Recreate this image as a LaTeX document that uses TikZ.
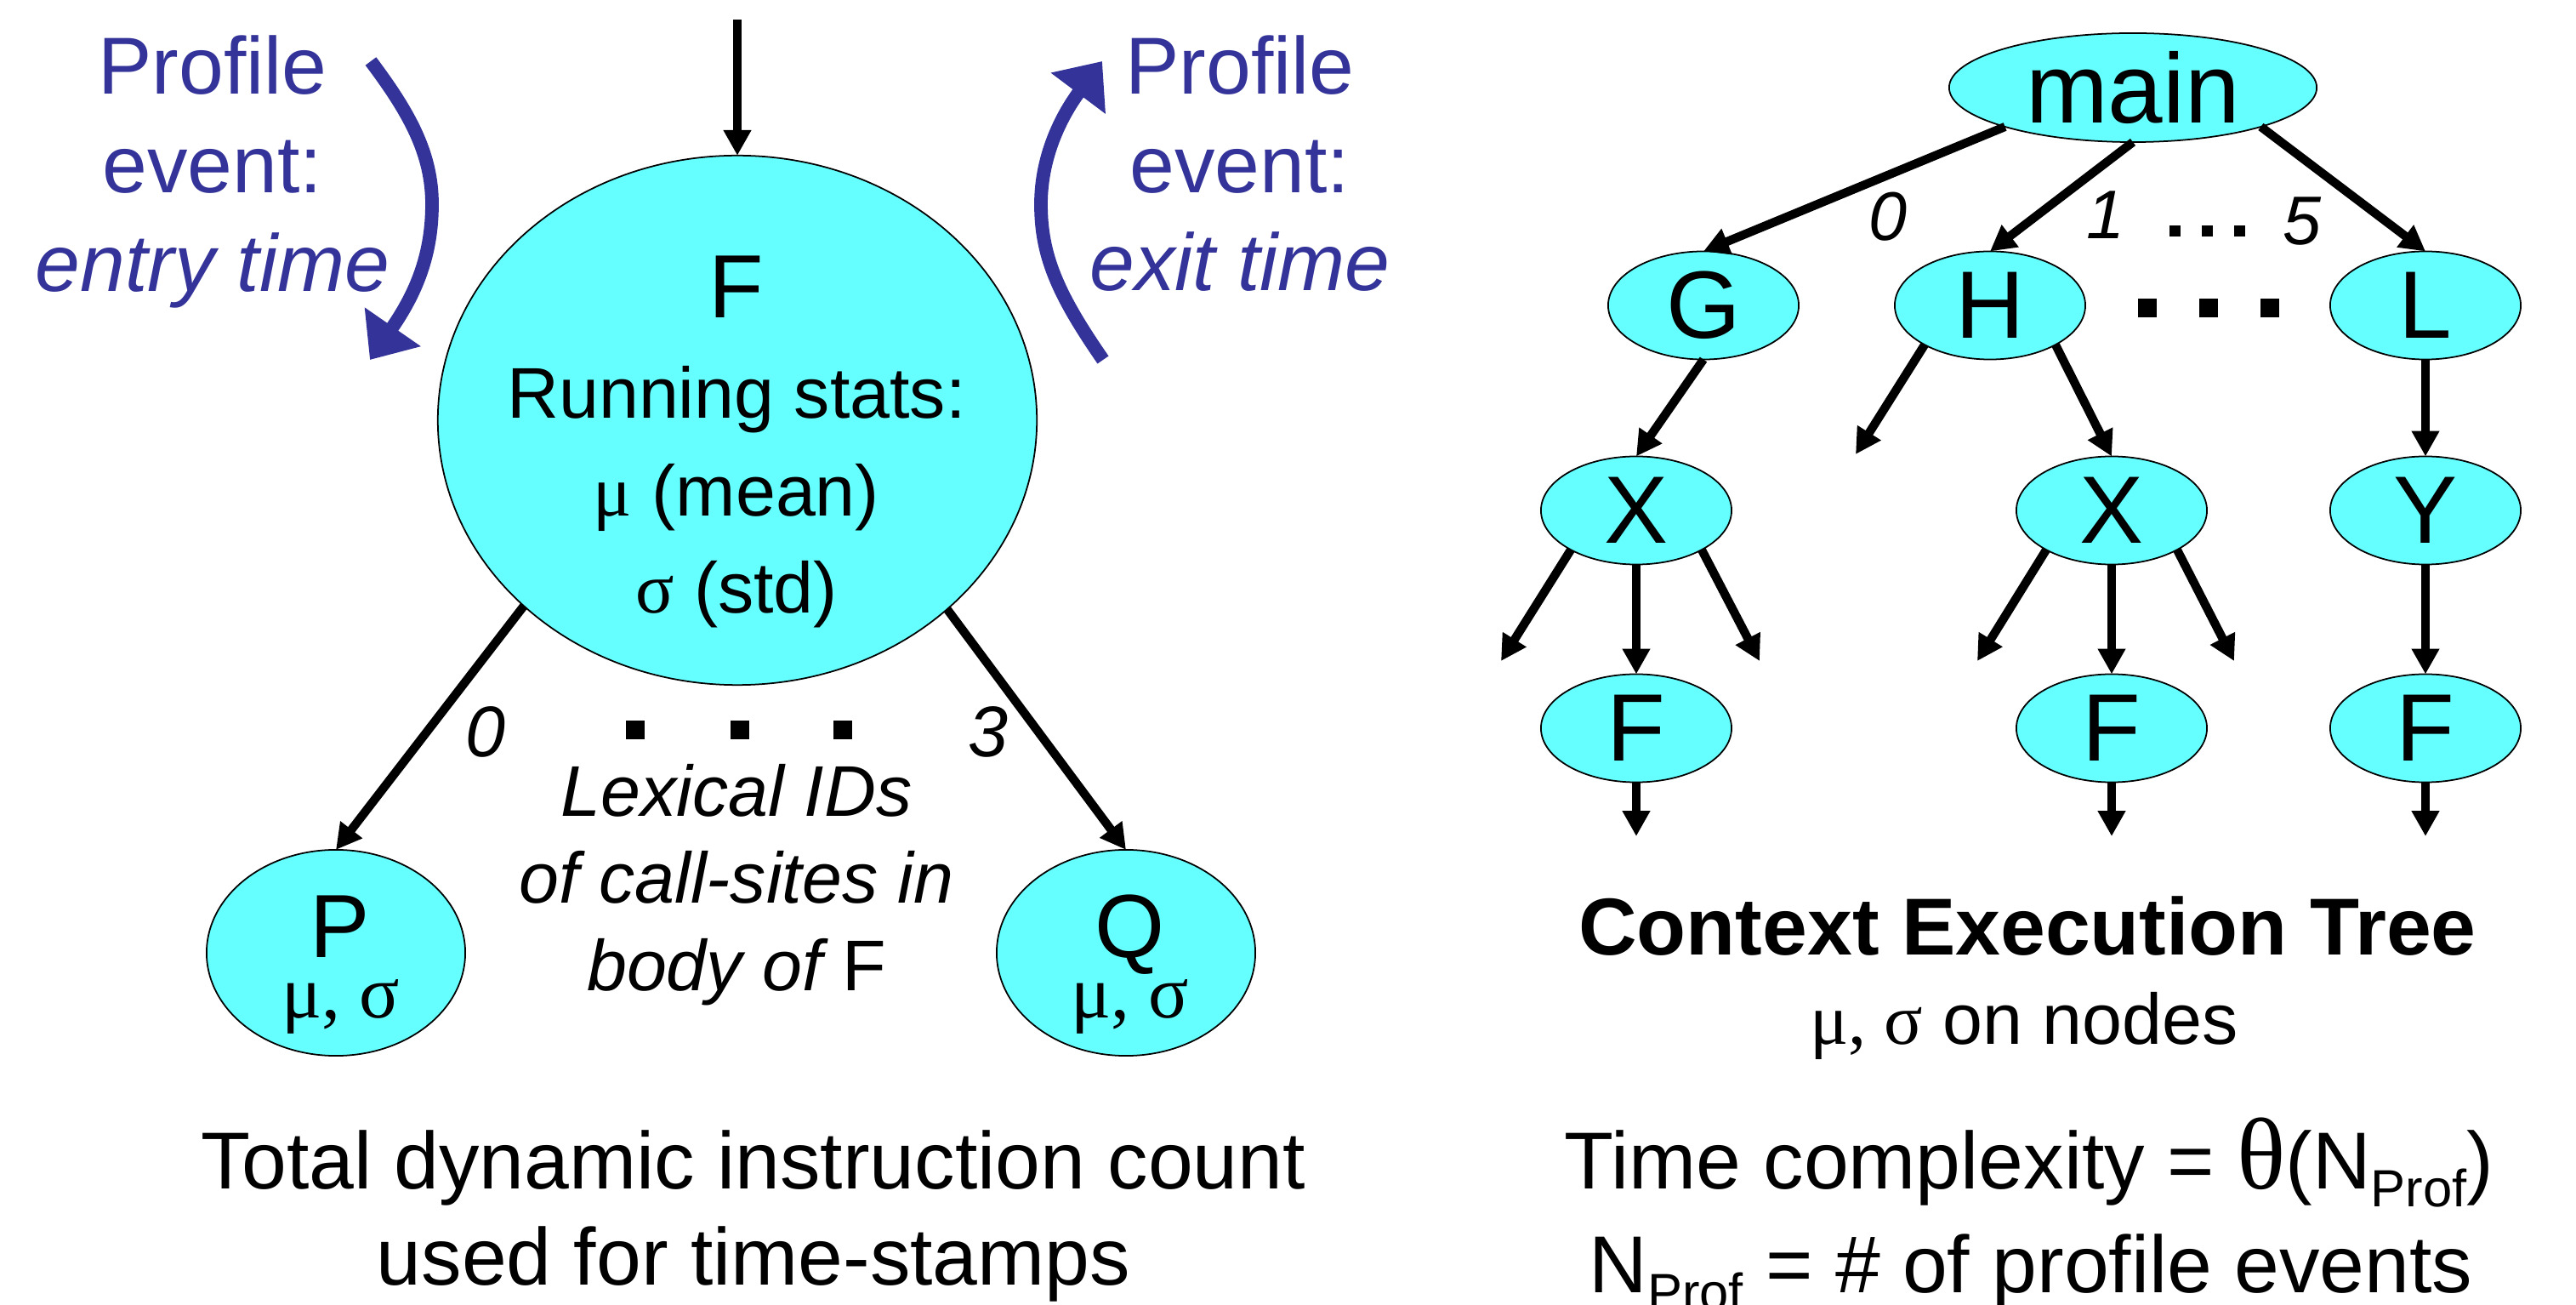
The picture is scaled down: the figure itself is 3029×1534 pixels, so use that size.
\documentclass[tikz,border=0pt]{standalone}
\usepackage{fontspec}
\setmainfont{Liberation Sans}
\newfontfamily\greekfont{Liberation Serif}
\usetikzlibrary{arrows.meta,shapes.geometric}

\definecolor{nodecyan}{HTML}{66FFFF}
\definecolor{eventblue}{HTML}{333399}
\newcommand{\fsz}[1]{\fontsize{#1}{#1}\selectfont}
\newcommand{\gk}[1]{{\greekfont #1}}
\newcommand{\prof}{\raisebox{-6pt}{\fsz{17.5}Prof}}

\begin{document}
\begin{tikzpicture}[x=0.01cm,y=-0.01cm,
  oval/.style={ellipse, draw=black, line width=0.5pt, fill=nodecyan, inner sep=0pt, outer sep=0pt},
  bigoval/.style={oval, minimum width=7.04cm, minimum height=6.22cm},
  calloval/.style={oval, minimum width=3.04cm, minimum height=2.42cm},
  treeoval/.style={oval, minimum width=2.24cm, minimum height=1.27cm, font=\fsz{32}},
  rootoval/.style={oval, minimum width=4.32cm, minimum height=1.28cm, font=\fsz{33}},
  edge/.style={line width=2.9pt, -{Triangle[length=8.5pt,width=8.8pt]}},
  evarrow/.style={line width=4.5pt, draw=eventblue, -{Triangle[length=13.4pt,width=22pt]}},
  txt/.style={anchor=base, inner sep=0pt},
  bluetxt/.style={txt, text=eventblue, font=\fsz{27}},
  sitelbl/.style={inner sep=0pt, font=\fsz{24}\itshape},
  treelbl/.style={inner sep=0pt, font=\fsz{23}\itshape},
  bigdot/.style={fill=black, inner sep=0pt, minimum width=0.22cm, minimum height=0.22cm},
  smalldot/.style={fill=black, inner sep=0pt, minimum width=0.13cm, minimum height=0.13cm}]

\useasboundingbox (0,0) rectangle (3029,1534);

% ---------- left: one function with its call sites ----------
\node[bigoval] (F) at (867,494) {};
\node[txt, font=\fsz{30}] (Fname) at (866,374) {F};
\node[txt, font=\fsz{24}] (Fstats) at (866,492) {Running stats:};
\node[txt, font=\fsz{24}] (Fmean) at (866,607) {\gk{μ} (mean)};
\node[txt, font=\fsz{24}] (Fstd) at (866,721) {\gk{σ} (std)};

\coordinate (callin) at (867,23);
\draw[edge] (callin) -- (F.north);

\node[calloval] (P) at (395,1120) {};
\node[txt, font=\fsz{30}] (Pname) at (400,1126) {P};
\node[txt, font=\fsz{25}\greekfont] (Pstat) at (401,1196) {μ, σ};
\node[calloval] (Q) at (1324,1120) {};
\node[txt, font=\fsz{30}] (Qname) at (1329,1126) {Q};
\node[txt, font=\fsz{25}\greekfont] (Qstat) at (1329,1196) {μ, σ};

\draw[edge] (F.221.6) -- (P.north);
\draw[edge] (F.318.6) -- (Q.north);

\node[sitelbl] (site0) at (571,860) {0};
\node[sitelbl] (site3) at (1162,860) {3};
\node[bigdot] (sd1) at (747,858) {};
\node[bigdot] (sd2) at (870,858) {};
\node[bigdot] (sd3) at (991,858) {};

\node[txt, font=\fsz{24}\itshape] (lex1) at (866,960) {Lexical IDs};
\node[txt, font=\fsz{24}\itshape] (lex2) at (866,1061) {of call-sites in};
\node[txt, font=\fsz{24}] (lex3) at (866,1164) {{\itshape body of} F};

% profile events around the call
\node[bluetxt] (entry1) at (250,111) {Profile};
\node[bluetxt] (entry2) at (250,227) {event:};
\node[bluetxt, font=\fsz{27}\itshape] (entry3) at (250,343) {entry time};
\coordinate (entryA) at (436,72);
\coordinate (entryB) at (435,423);
\draw[evarrow] (entryA) .. controls (481,132) and (508,180) .. (508,240)
  .. controls (508,300) and (489,345) .. (entryB);

\node[bluetxt] (exit1) at (1458,111) {Profile};
\node[bluetxt] (exit2) at (1458,227) {event:};
\node[bluetxt, font=\fsz{27}\itshape] (exit3) at (1458,342) {exit time};
\coordinate (exitA) at (1297,423);
\coordinate (exitB) at (1296,72);
\draw[evarrow] (exitA) .. controls (1243,345) and (1224,300) .. (1224,240)
  .. controls (1224,180) and (1251,132) .. (exitB);

\node[txt, font=\fsz{27}] (note1) at (886,1397) {Total dynamic instruction count};
\node[txt, font=\fsz{27}] (note2) at (886,1510) {used for time-stamps};

% ---------- right: context execution tree ----------
\node[rootoval] (main) at (2508,103) {main};
\node[treeoval] (G) at (2003,359) {G};
\node[treeoval] (H) at (2340,359) {H};
\node[treeoval] (L) at (2852,359) {L};
\node[treeoval] (X1) at (1924,600) {X};
\node[treeoval] (X2) at (2483,600) {X};
\node[treeoval] (Y) at (2852,600) {Y};
\node[treeoval] (F1) at (1924,856) {F};
\node[treeoval] (F2) at (2483,856) {F};
\node[treeoval] (F3) at (2852,856) {F};

\node[bigdot] (hd1) at (2525,362) {};
\node[bigdot] (hd2) at (2597,362) {};
\node[bigdot] (hd3) at (2669,362) {};

\node[treelbl] (e0) at (2220,255) {0};
\node[treelbl] (e1) at (2476,253) {1};
\node[treelbl] (e5) at (2707,260) {5};
\node[smalldot] (ed1) at (2557,272) {};
\node[smalldot] (ed2) at (2595,272) {};
\node[smalldot] (ed3) at (2633,272) {};

\coordinate (Hl) at (2182,534);
\coordinate (X1l) at (1765,777);
\coordinate (X1r) at (2069,777);
\coordinate (X2l) at (2325,777);
\coordinate (X2r) at (2627,777);
\coordinate (F1d) at (1924,983);
\coordinate (F2d) at (2483,983);
\coordinate (F3d) at (2852,983);

\draw[edge] (main.197) -- (G.north);
\draw[edge] (main.south) -- (H.north);
\draw[edge] (main.343) -- (L.north);
\draw[edge] (G.south) -- (X1.north);
\draw[edge] (H.211) -- (Hl);
\draw[edge] (H.329) -- (X2.north);
\draw[edge] (L.south) -- (Y.north);
\draw[edge] (X1.211) -- (X1l);
\draw[edge] (X1.south) -- (F1.north);
\draw[edge] (X1.329) -- (X1r);
\draw[edge] (X2.211) -- (X2l);
\draw[edge] (X2.south) -- (F2.north);
\draw[edge] (X2.329) -- (X2r);
\draw[edge] (Y.south) -- (F3.north);
\draw[edge] (F1.south) -- (F1d);
\draw[edge] (F2.south) -- (F2d);
\draw[edge] (F3.south) -- (F3d);

\node[txt, font=\fsz{27}\bfseries] (title) at (2384,1123) {Context Execution Tree};
\node[txt, font=\fsz{24}] (sub) at (2380,1227) {\gk{μ, σ} on nodes};
\node[txt, font=\fsz{27}] (cplx) at (2386,1397) {Time complexity = {\greekfont\fsz{34}θ}(N\prof)};
\node[txt, font=\fsz{27}] (nprof) at (2388,1519) {N\prof{} = \# of profile events};

\end{tikzpicture}
\end{document}
